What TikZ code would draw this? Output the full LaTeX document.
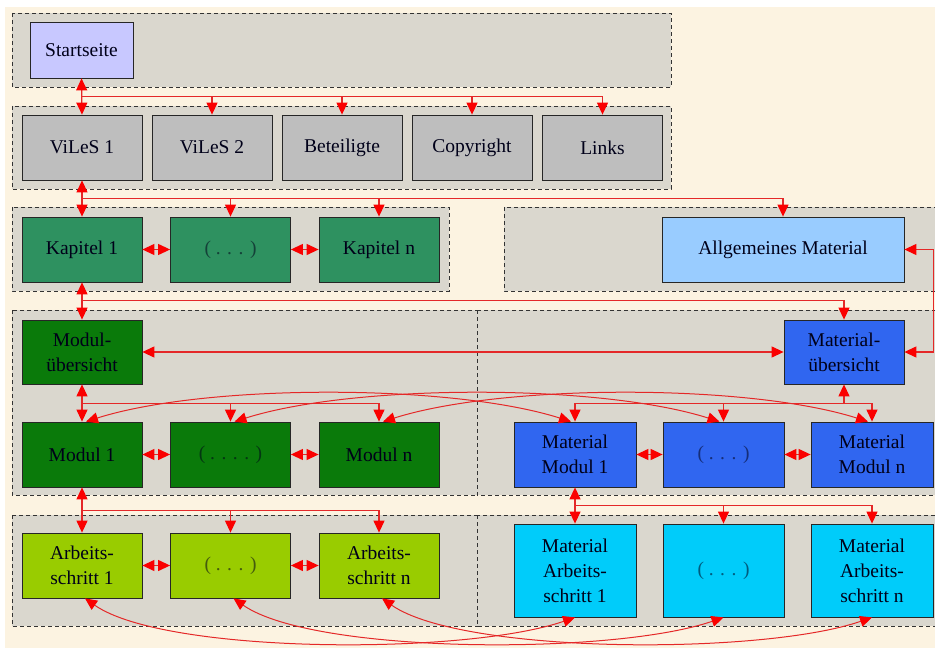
\documentclass[tikz,border=0pt]{standalone}
\usepackage{fontspec}
\setmainfont{Liberation Serif}
\usetikzlibrary{arrows.meta,calc}
\definecolor{cream}{RGB}{252,243,225}
\definecolor{grpgray}{RGB}{218,215,206}
\definecolor{startcol}{RGB}{200,200,255}
\definecolor{graycol}{RGB}{190,190,190}
\definecolor{kapcol}{RGB}{46,145,96}
\definecolor{allgcol}{RGB}{153,204,255}
\definecolor{modcol}{RGB}{10,122,10}
\definecolor{matcol}{RGB}{48,102,240}
\definecolor{ascol}{RGB}{153,204,0}
\definecolor{mascol}{RGB}{0,204,250}
\definecolor{lnred}{RGB}{228,40,40}
\definecolor{tipred}{RGB}{250,0,0}
\begin{document}
\begin{tikzpicture}[x=1pt,y=-1pt,
  >={Triangle[length=12pt,width=11pt,color=tipred]},
  grp/.style={draw=black!80, dash pattern=on 4pt off 3pt, fill=grpgray, line width=0.8pt},
  box/.style={draw=black!85, line width=0.8pt, minimum width=120pt, minimum height=65pt,
    align=center, inner sep=0pt, text=black!90!blue,
    font=\fontsize{19.5}{25}\selectfont},
  dim/.style={text opacity=0.55},
  con/.style={draw=lnred, line width=1.2pt}]
\useasboundingbox (0,0) rectangle (935,650);
\fill[white] (0,0) rectangle (935,650);
\fill[cream] (5,7) rectangle (935,648);
\begin{scope}
\clip (0,0) rectangle (935,650);
\path[grp] (12,13) rectangle (671,87);
\path[grp] (12,106) rectangle (671,189);
\path[grp] (12,207) rectangle (449,291);
\path[grp] (504,207) rectangle (945,291);
\path[grp] (12,310) rectangle (477,495);
\path[grp] (477,310) rectangle (945,495);
\path[grp] (12,515) rectangle (477,626);
\path[grp] (477,515) rectangle (945,626);
\end{scope}

% nodes
\node[box, fill=startcol, minimum width=103pt, minimum height=56pt] (start) at (81.5,50) {Startseite};
\node[box, fill=graycol] (viles1) at (82,147.5) {ViLeS 1};
\node[box, fill=graycol] (viles2) at (212,147.5) {ViLeS 2};
\node[box, fill=graycol] (betei) at (342,147.5) {Beteiligte};
\node[box, fill=graycol] (copy) at (472,147.5) {Copyright};
\node[box, fill=graycol] (links) at (602.5,147.5) {Links};

\node[box, fill=kapcol] (kap1) at (82,249.5) {Kapitel 1};
\node[box, fill=kapcol, dim] (kapdots) at (230.5,249.5) {( . . . )};
\node[box, fill=kapcol] (kapn) at (379,249.5) {Kapitel n};
\node[box, fill=allgcol, minimum width=242pt] (allg) at (783,249.5) {Allgemeines Material};

\node[box, fill=modcol, minimum height=64pt] (modueb) at (82,352) {Modul-\\übersicht};
\node[box, fill=matcol, minimum height=64pt] (mateb) at (844,352) {Material-\\übersicht};

\node[box, fill=modcol] (mod1) at (82,454.5) {Modul 1};
\node[box, fill=modcol, dim] (moddots) at (230.5,454.5) {( . . . . )};
\node[box, fill=modcol] (modn) at (379,454.5) {Modul n};
\node[box, fill=matcol, minimum width=122pt] (mm1) at (575,454.5) {Material\\Modul 1};
\node[box, fill=matcol, minimum width=121pt, dim] (mmdots) at (723.5,454.5) {( . . . )};
\node[box, fill=matcol, minimum width=122pt] (mmn) at (872,454.5) {Material\\Modul n};

\node[box, fill=ascol] (as1) at (82,565.5) {Arbeits-\\schritt 1};
\node[box, fill=ascol, dim] (asdots) at (230.5,565.5) {( . . . )};
\node[box, fill=ascol] (asn) at (379,565.5) {Arbeits-\\schritt n};
\node[box, fill=mascol, minimum width=122pt, minimum height=93pt] (mas1) at (575,570.5) {Material\\Arbeits-\\schritt 1};
\node[box, fill=mascol, minimum width=121pt, minimum height=93pt, dim] (masdots) at (723.5,570.5) {( . . . )};
\node[box, fill=mascol, minimum width=122pt, minimum height=93pt] (masn) at (872,570.5) {Material\\Arbeits-\\schritt n};

% bus coordinates
\coordinate (b1) at ($(start.south)+(0,18)$);
\coordinate (b2) at ($(viles1.south)+(0,18)$);
\coordinate (b3) at ($(kap1.south)+(0,18)$);
\coordinate (b4) at ($(modueb.south)+(0,19)$);
\coordinate (b5) at ($(mateb.south)+(0,19)$);
\coordinate (b6) at ($(mod1.south)+(0,23)$);
\coordinate (b7) at ($(mm1.south)+(0,18)$);

% connectors
\draw[con,<->] (start.south) -- (viles1.north);
\foreach \n in {viles2,betei,copy,links} \draw[con,->] (b1) -| (\n.north);

\draw[con,<->] (viles1.south) -- (kap1.north);
\foreach \n in {kapdots,kapn,allg} \draw[con,->] (b2) -| (\n.north);

\draw[con,<->] (kap1.south) -- (modueb.north);
\draw[con,->] (b3) -| (mateb.north);

\draw[con,<->] (kap1.east) -- (kapdots.west);
\draw[con,<->] (kapdots.east) -- (kapn.west);

\draw[con,<->] (modueb.east) -- (mateb.west);
\draw[con,<->] (allg.east) -- ++(29,0) |- (mateb.east);

\draw[con,<->] (modueb.south) -- (mod1.north);
\foreach \n in {moddots,modn} \draw[con,->] (b4) -| (\n.north);
\draw[con,->] (b5) -- (mateb.south);
\foreach \n in {mm1,mmdots,mmn} \draw[con,->] (b5) -| (\n.north);

\draw[con,<->] (mod1.east) -- (moddots.west);
\draw[con,<->] (moddots.east) -- (modn.west);
\draw[con,<->] (mm1.east) -- (mmdots.west);
\draw[con,<->] (mmdots.east) -- (mmn.west);

\draw[con,<->] (mod1.south) -- (as1.north);
\foreach \n in {asdots,asn} \draw[con,->] (b6) -| (\n.north);
\draw[con,<->] (mm1.south) -- (mas1.north);
\foreach \n in {masdots,masn} \draw[con,->] (b7) -| (\n.north);

\draw[con,<->] (as1.east) -- (asdots.west);
\draw[con,<->] (asdots.east) -- (asn.west);

% curves between module rows
\foreach \a/\b in {mod1/mm1,moddots/mmdots,modn/mmn}
  \draw[con,line width=1pt,<->] ([xshift=4pt]\a.north) .. controls +(120,-38) and +(-120,-38) .. ([xshift=-4pt]\b.north);
\foreach \a/\b in {as1/mas1,asdots/masdots,asn/masn}
  \draw[con,line width=1pt,<->] ([xshift=3pt]\a.south) .. controls +(80,56) and +(-110,38) .. (\b.south);
\end{tikzpicture}
\end{document}
